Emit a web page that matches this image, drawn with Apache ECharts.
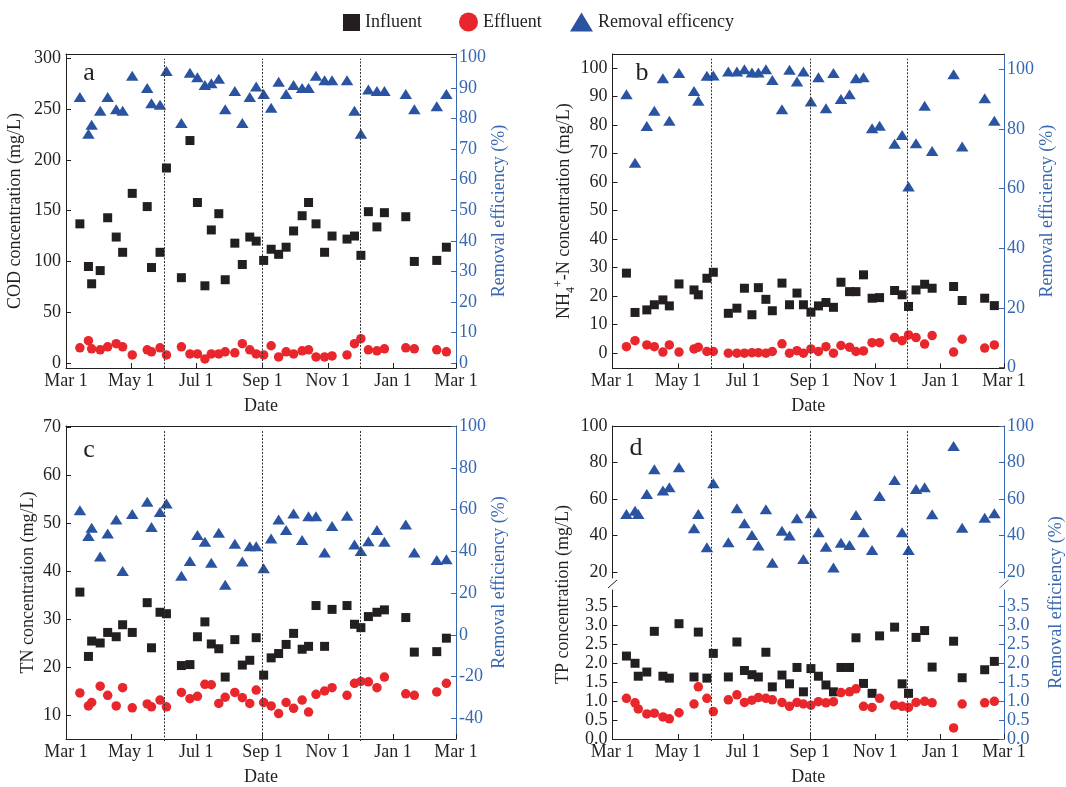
<!DOCTYPE html>
<html><head><meta charset="utf-8">
<script src="https://cdn.jsdelivr.net/npm/echarts@6/dist/echarts.min.js"></script>
<style>html,body{margin:0;padding:0;background:#fff}#c{width:1066px;height:787px}</style>
</head><body><div id="c"></div>
<script>
// ---------- DATA ----------
const sampleDates = ['2014-03-14','2014-03-22','2014-03-25','2014-04-02','2014-04-09','2014-04-17','2014-04-23','2014-05-02','2014-05-16','2014-05-20','2014-05-28','2014-06-03','2014-06-17','2014-06-25','2014-07-02','2014-07-09','2014-07-15','2014-07-22','2014-07-28','2014-08-06','2014-08-13','2014-08-20','2014-08-26','2014-09-02','2014-09-09','2014-09-16','2014-09-23','2014-09-30','2014-10-08','2014-10-14','2014-10-21','2014-10-29','2014-11-05','2014-11-19','2014-11-26','2014-12-02','2014-12-09','2014-12-17','2014-12-24','2015-01-13','2015-01-21','2015-02-11','2015-02-20'];
const xTickDates = ['2014-03-01','2014-05-01','2014-07-01','2014-09-01','2014-11-01','2015-01-01','2015-03-01'];
const xTickLabels = ['Mar 1','May 1','Jul 1','Sep 1','Nov 1','Jan 1','Mar 1'];
const seasonDates = ['2014-06-01','2014-09-01','2014-12-01'];

const codInfluent = [137,95,78,91,143,124,109,167,154,94,109,192,84,219,158,76,131,147,82,118,97,124,120,101,112,107,114,130,145,158,137,109,125,122,125,106,149,134,148,144,100,101,114];
const codEffluent = [15,22,14,13,16,19,16,8,13,11,15,8,16,9,9,4,9,9,11,10,19,13,9,8,17,6,11,9,12,13,6,6,7,8,19,24,13,12,14,15,14,13,11];
const codRemoval  = [87,75,78,82.5,87,83,82.5,94,90,85,84.5,95.5,78.5,95,93.5,91,91.5,93,83,89,78.5,87,90.5,88,83.5,92,88,91,90,90,94,92.5,92.5,92.5,82.5,75,89.5,89,89,88,83,84,88];

const nh4Influent = [28.1,14.3,null,15.2,17,18.7,16.6,24.3,22.2,20.5,26.3,28.4,14,15.8,22.8,13.5,23,18.9,14.9,24.6,17,21.1,17,14.4,16.6,17.8,16.1,24.9,21.6,21.6,27.5,19.3,19.5,22,20.5,16.4,22.2,24.2,22.8,23.4,18.5,19.3,16.7];
const nh4Effluent = [2.3,4.4,null,2.9,2.3,0.4,2.9,0.4,1.5,2.1,0.6,0.6,0,0,0,0.2,0.2,0,0.6,3.3,0,0.9,0,1.5,0.6,2.3,0,2.7,2.1,0.6,0.8,3.7,3.7,5.5,4.4,6.4,5.5,3.2,6.2,0.4,4.9,1.8,2.9];
const nh4Removal  = [91.6,68.7,null,81,86.1,97,82.7,98.7,92.7,89.4,97.8,97.9,99.2,99.2,100,98.9,98.9,100,96.4,86.6,99.8,95.9,99.2,89.2,97.3,86.9,98.7,90,91.6,97,97.3,80.2,81.1,75,78,60.7,75.2,87.8,72.6,98.3,74.1,90.3,82.7];

const tnInfluent = [35.6,22.2,25.4,25,27.2,26.3,28.8,27.2,33.4,24,31.4,31.1,20.3,20.5,26.3,29.4,24.8,23.8,17.9,25.7,20.4,21.4,26.1,18.3,21.9,22.8,24.7,27,23.7,24.3,32.8,24.3,32,32.8,28.9,28.2,30.5,31.4,31.9,30.3,23.1,23.2,26];
const tnEffluent = [14.6,11.9,12.6,16,14.1,11.9,15.7,11.5,12.3,11.7,13.1,11.7,14.7,13.4,13.9,16.4,16.3,12.4,13.7,14.7,13.6,12.4,15.2,12.6,11.9,10.3,12.6,11.4,13.1,10.6,14.3,15,15.7,14.1,16.6,17,16.9,15.7,17.9,14.4,14.1,14.8,16.6];
const tnRemoval  = [59.7,47.3,51.3,37.5,48.6,55.2,30.6,57.9,63.7,51.7,58.9,62.9,28.3,35.4,47.8,44.6,34.6,48.9,24,43.7,35.1,42.5,42.5,31.9,46.2,55.2,50.2,58.1,45.4,56.8,56.8,39.4,52.1,57.1,43.3,40.2,44.9,50.2,44.6,52.9,39.4,35.9,36.2];

const tpInfluent = [2.18,1.99,1.65,1.76,2.83,1.65,1.6,3.03,1.63,2.81,1.6,2.25,1.63,2.55,1.8,1.69,1.63,2.28,1.37,1.68,1.45,1.88,1.24,1.85,1.65,1.42,1.24,1.88,1.88,2.66,1.46,1.2,2.71,2.94,1.45,1.2,2.67,2.85,1.89,2.57,1.61,1.82,2.04];
const tpEffluent = [1.07,0.95,0.79,0.66,0.68,0.58,0.53,0.69,0.92,1.37,1.07,0.72,1.03,1.16,0.96,1.02,1.09,1.07,1.03,0.96,0.86,0.96,0.92,0.89,0.98,0.95,0.98,1.22,1.24,1.32,0.86,0.83,1.07,0.89,0.86,0.83,0.96,0.99,0.95,0.29,0.92,0.95,0.99];
const tpRemoval  = [51.9,53.7,51.9,62.8,76.3,64.7,66.5,77.4,44.1,51.9,33.7,68.7,36.4,55,46.8,40.4,34.6,54.5,25.3,42.8,40.1,49.5,27.3,52.3,41.9,34,22.7,36.2,34.9,51.4,41.9,32.2,61.7,70.5,41.9,32.2,65.6,66.5,51.7,89.1,44.4,49.9,52.3];

const codTicksLeft = [0,50,100,150,200,250,300];
const codTicksRight = [0,10,20,30,40,50,60,70,80,90,100];
const nh4TicksLeft = [0,10,20,30,40,50,60,70,80,90,100];
const nh4TicksRight = [0,20,40,60,80,100];
const tnTicksLeft = [10,20,30,40,50,60,70];
const tnTicksRight = [-40,-20,0,20,40,60,80,100];
const tpTicksUpper = [20,40,60,80,100];
const tpTicksLower = [0,0.5,1,1.5,2,2.5,3,3.5];

const names = ['Influent','Effluent','Removal efficency'];

// ---------- HELPERS ----------
const ORIGIN = Date.UTC(2014,2,1);
function day(s){const p=s.split('-').map(Number);return Math.round((Date.UTC(p[0],p[1]-1,p[2])-ORIGIN)/86400000);}
const sampleDays = sampleDates.map(day);
const tickDays = xTickDates.map(day);
const seasonDays = seasonDates.map(day);
const XMAX = tickDays[tickDays.length-1];
function pts(arr){const o=[];arr.forEach((v,i)=>{if(v!==null&&v!==undefined)o.push([sampleDays[i],v]);});return o;}

const FONT='Liberation Serif', TXT='#231f20', BLUE='#3767b1', TRI='#2a54a2', RED='#e8262b', BLK='#231f20';
const grids=[], xAxes=[], yAxes=[], series=[];
function addGrid(l,t,w,h){grids.push({left:l,top:t,width:w,height:h});return grids.length-1;}
function addX(o){xAxes.push(o);return xAxes.length-1;}
function addY(o){yAxes.push(o);return yAxes.length-1;}
const lblStyle = (c)=>({fontFamily:FONT,fontSize:18,color:c});

function xBottom(g,withName){
  return addX({type:'value',gridIndex:g,position:'bottom',min:0,max:XMAX,
    axisLine:{show:true,onZero:false,lineStyle:{color:BLK,width:1}},
    axisTick:{show:true,inside:true,length:5,customValues:tickDays,lineStyle:{color:BLK}},
    axisLabel:Object.assign({customValues:tickDays,margin:4,formatter:v=>xTickLabels[tickDays.indexOf(Math.round(v))]},lblStyle(TXT)),
    splitLine:{show:false},
    name:withName?'Date':'',nameLocation:'middle',nameGap:29,nameTextStyle:lblStyle(TXT)});
}
function xTop(g){
  return addX({type:'value',gridIndex:g,position:'top',min:0,max:XMAX,
    axisLine:{show:true,onZero:false,lineStyle:{color:BLK,width:1}},
    axisTick:{show:false},axisLabel:{show:false},splitLine:{show:false}});
}
function yAxis(g,side,min,max,ticks,name,gap,fmt,nameStyle){
  const c = side==='left'?TXT:BLUE;
  const lc = side==='left'?BLK:BLUE;
  return addY({type:'value',gridIndex:g,position:side,min:min,max:max,
    axisLine:{show:true,onZero:false,lineStyle:{color:lc,width:1}},
    axisTick:{show:true,inside:true,length:5,customValues:ticks,lineStyle:{color:lc}},
    axisLabel:Object.assign({customValues:ticks,margin:side==='left'?5:3,formatter:fmt||(v=>String(v))},lblStyle(c)),
    splitLine:{show:false},
    name:name||'',nameLocation:'middle',nameRotate:90,nameGap:gap||30,
    nameTextStyle:nameStyle||lblStyle(c)});
}
function scatter(name,data,xi,yi){
  const st = name==='Influent'?{symbol:'rect',symbolSize:9,color:BLK}:
             name==='Effluent'?{symbol:'circle',symbolSize:9.5,color:RED}:
             {symbol:'triangle',symbolSize:[12.5,10],color:TRI};
  series.push({type:'scatter',name:name,xAxisIndex:xi,yAxisIndex:yi,data:data,symbol:st.symbol,symbolSize:st.symbolSize,
    itemStyle:{color:st.color,opacity:1},z:3,silent:true});
}
function overlay(l,t,w,h){
  const g = addGrid(l,t,w,h);
  const xi = addX({type:'value',gridIndex:g,min:0,max:XMAX,show:false});
  const yi = addY({type:'value',gridIndex:g,min:0,max:1,show:false});
  series.push({type:'scatter',xAxisIndex:xi,yAxisIndex:yi,data:[],symbolSize:0,silent:true,z:1,
    markLine:{silent:true,symbol:['none','none'],label:{show:false},animation:false,
      lineStyle:{color:'#333',type:[2,1.5],width:1},
      data:seasonDays.map(x=>[{coord:[x,0]},{coord:[x,0.985]}])}});
}
// hidden grid that only carries an axis title (used for the broken-axis panel)
function nameHolder(l,t,w,h,side,name,gap,color){
  const g = addGrid(l,t,w,h);
  addX({type:'value',gridIndex:g,min:0,max:1,show:false});
  addY({type:'value',gridIndex:g,position:side,min:0,max:1,show:true,
    axisLine:{show:false},axisTick:{show:false},axisLabel:{show:false},splitLine:{show:false},
    name:name,nameLocation:'middle',nameRotate:90,nameGap:gap,nameTextStyle:lblStyle(color)});
}

// ---------- PANELS ----------
const A={l:66,t:54,w:390,h:314}, B={l:612.5,t:54,w:391.5,h:314.3};
const C={l:66,t:426,w:390,h:315}, D={l:612.5,t:426,w:391.5,h:315};

// a
(function(){
  const g=addGrid(A.l,A.t,A.w,A.h);
  const xb=xBottom(g,true); xTop(g);
  const yl=yAxis(g,'left',-4.9,304.2,codTicksLeft,'COD concentration (mg/L)',42);
  const yr=yAxis(g,'right',-1.6,101.1,codTicksRight,'Removal efficiency (%)',34);
  scatter(names[0],pts(codInfluent),xb,yl);
  scatter(names[1],pts(codEffluent),xb,yl);
  scatter(names[2],pts(codRemoval),xb,yr);
  overlay(A.l,A.t,A.w,A.h);
})();
// b
(function(){
  const g=addGrid(B.l,B.t,B.w,B.h);
  const xb=xBottom(g,true); xTop(g);
  const nh4Style={fontFamily:FONT,fontSize:18,color:TXT,rich:{
    n:{fontFamily:FONT,fontSize:18,color:TXT,lineHeight:24},
    s:{fontFamily:FONT,fontSize:12,color:TXT,verticalAlign:'bottom',lineHeight:12},
    p:{fontFamily:FONT,fontSize:12,color:TXT,verticalAlign:'top',lineHeight:12}}};
  const yl=yAxis(g,'left',-5.3,105,nh4TicksLeft,'{n|NH}{s|4}{p|+}{n|-N concentration (mg/L)}',36,null,nh4Style);
  const yr=yAxis(g,'right',-0.2,105.1,nh4TicksRight,'Removal efficiency (%)',33);
  scatter(names[0],pts(nh4Influent),xb,yl);
  scatter(names[1],pts(nh4Effluent),xb,yl);
  scatter(names[2],pts(nh4Removal),xb,yr);
  overlay(B.l,B.t,B.w,B.h);
})();
// c
(function(){
  const g=addGrid(C.l,C.t,C.w,C.h);
  const xb=xBottom(g,true); xTop(g);
  const yl=yAxis(g,'left',5,70.2,tnTicksLeft,'TN concentration (mg/L)',29);
  const yr=yAxis(g,'right',-49.8,100,tnTicksRight,'Removal efficiency (%)',34);
  scatter(names[0],pts(tnInfluent),xb,yl);
  scatter(names[1],pts(tnEffluent),xb,yl);
  scatter(names[2],pts(tnRemoval),xb,yr);
  overlay(C.l,C.t,C.w,C.h);
})();
// d (broken axis: upper for removal, lower for concentrations)
(function(){
  const gu=addGrid(D.l,D.t,D.w,152);
  const gl=addGrid(D.l,590,D.w,D.t+D.h-590);
  const xu=addX({type:'value',gridIndex:gu,position:'bottom',min:0,max:XMAX,show:false});
  xTop(gu);
  const xl=xBottom(gl,true);
  const fmt1=v=>v.toFixed(1);
  yAxis(gu,'left',16.9,100,tpTicksUpper);
  const yur=yAxis(gu,'right',16.9,100,tpTicksUpper);
  const yll=yAxis(gl,'left',0,3.916,tpTicksLower,'',30,fmt1);
  yAxis(gl,'right',0,3.916,tpTicksLower,'',30,fmt1);
  scatter(names[0],pts(tpInfluent),xl,yll);
  scatter(names[1],pts(tpEffluent),xl,yll);
  scatter(names[2],pts(tpRemoval),xu,yur);
  overlay(D.l,D.t,D.w,D.h);
  nameHolder(D.l,D.t+11,D.w,D.h,'left','TP concentration (mg/L)',40,TXT);
  nameHolder(D.l,D.t+19,D.w,D.h,'right','Removal efficiency (%)',43,BLUE);
})();

const legendBase={top:13,orient:'horizontal',itemGap:10,selectedMode:false,
  textStyle:{fontFamily:FONT,fontSize:18,color:TXT},padding:0};
const option={
  animation:false,
  backgroundColor:'#fff',
  textStyle:{fontFamily:FONT},
  legend:[
    Object.assign({},legendBase,{left:343,top:13.5,data:[{name:'Influent',icon:'rect'}],itemWidth:17,itemHeight:17}),
    Object.assign({},legendBase,{left:459,top:12.5,data:[{name:'Effluent',icon:'circle'}],itemWidth:19,itemHeight:19}),
    Object.assign({},legendBase,{left:570,top:12.5,data:[{name:'Removal efficency',icon:'triangle'}],itemWidth:23,itemHeight:19,itemGap:3})
  ],
  grid:grids, xAxis:xAxes, yAxis:yAxes, series:series,
  graphic:[
    {type:'text',x:89,y:73,style:{text:'a',font:'26px "Liberation Serif"',fill:TXT,align:'center',verticalAlign:'middle'}},
    {type:'text',x:642,y:73,style:{text:'b',font:'26px "Liberation Serif"',fill:TXT,align:'center',verticalAlign:'middle'}},
    {type:'text',x:89,y:450,style:{text:'c',font:'26px "Liberation Serif"',fill:TXT,align:'center',verticalAlign:'middle'}},
    {type:'text',x:636,y:448,style:{text:'d',font:'26px "Liberation Serif"',fill:TXT,align:'center',verticalAlign:'middle'}},
    {type:'line',shape:{x1:608,y1:588,x2:617,y2:580},style:{stroke:BLK,lineWidth:1}},
    {type:'line',shape:{x1:999.5,y1:588,x2:1008.5,y2:580},style:{stroke:BLUE,lineWidth:1}}
  ]
};
const chart=echarts.init(document.getElementById('c'),null,{renderer:'canvas'});
chart.setOption(option);
</script></body></html>
